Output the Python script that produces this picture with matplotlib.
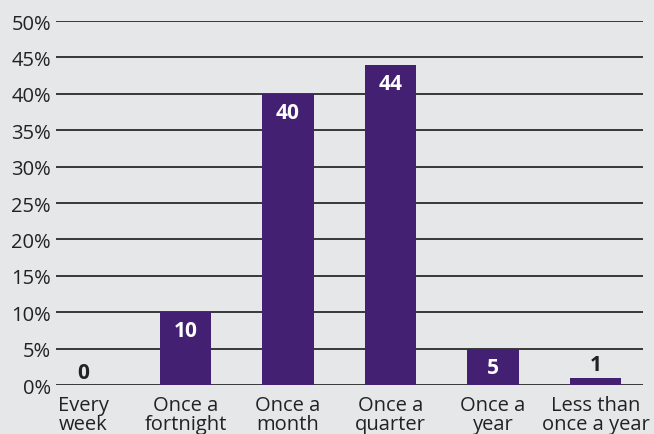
import numpy as np
import matplotlib.pyplot as plt

categories = ["Every\nweek", "Once a\nfortnight", "Once a\nmonth",
              "Once a\nquarter", "Once a\nyear", "Less than\nonce a year"]
values = [0, 10, 40, 44, 5, 1]
yticks = [0, 5, 10, 15, 20, 25, 30, 35, 40, 45, 50]

bg = "#e6e7e9"
bar_color = "#442073"
plt.rcParams['font.family'] = ['Open Sans', 'DejaVu Sans']

fig = plt.figure(figsize=(6.54, 4.35), dpi=100, facecolor=bg)
ax = fig.add_axes([0.0856, 0.1126, 0.8976, 0.8368], facecolor=bg)

x = np.arange(len(categories))
ax.set_axisbelow(True)
ax.yaxis.grid(True, color="#1a1a1a", linewidth=1.2)
ax.bar(x, values, width=0.5, color=bar_color, zorder=3)

# value labels: white inside tall bars, dark above short ones
for xi, v in zip(x, values):
    if v >= 4:
        ax.text(xi, v - 3.3, str(v), ha="center", va="baseline", color="white",
                fontsize=15, fontweight="bold", zorder=4)
    else:
        ax.text(xi, v + 1.0, str(v), ha="center", va="baseline", color="#222222",
                fontsize=15, fontweight="bold", zorder=4)

ax.set_xlim(-0.263, len(categories) - 1 + 0.463)
ax.set_ylim(0, 50)
ax.set_yticks(yticks)
ax.set_yticklabels([f"{t}%" for t in yticks], fontsize=14.5, color="#222222")
ax.set_xticks(x)
ax.set_xticklabels(categories, fontsize=14.5, color="#222222", linespacing=0.95)
ax.tick_params(axis="both", length=0, pad=3.5)
ax.tick_params(axis="x", pad=7)

for s in ax.spines.values():
    s.set_visible(False)

fig.savefig("out.png", dpi=100, facecolor=bg)
